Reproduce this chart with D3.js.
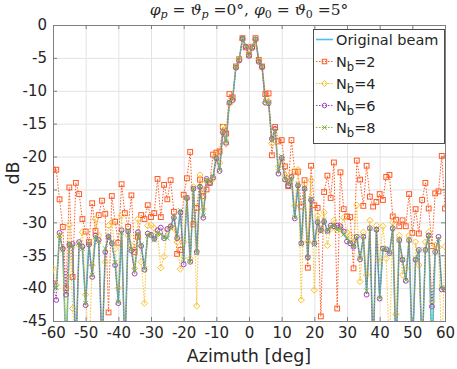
<!DOCTYPE html>
<meta charset="utf-8">
<head>
    <title>Beam pattern</title>
</head>
<style>
    body { margin: 0; background: #fff; }
    text { font-family: "DejaVu Sans", sans-serif; fill: #262626; }
    .grid line { stroke: #e3e3e3; stroke-width: 1; }
</style>
<svg width="457" height="369"></svg>
<script src="https://cdn.jsdelivr.net/npm/d3@7"></script>
<script>

    // azimuth samples, 1 degree apart
    var azimuth = d3.range(-60, 61, 1);

    var xTicks = [-60, -50, -40, -30, -20, -10, 0, 10, 20, 30, 40, 50, 60];
    var yTicks = [0, -5, -10, -15, -20, -25, -30, -35, -40, -45];

    // values below -45 fall off the axes (clipped)
    var original = [
        -40.0, -39.8, -31.9, -34.2, -50, -33.4, -33.5, -50, -33.0, -34.0,
        -42.4, -33.2, -38.2, -32.2, -32.8, -50, -34.1, -32.0, -33.0, -36.0,
        -42.3, -31.4, -50, -31.2, -34.0, -37.5, -31.7, -33.5, -37.0, -32.0,
        -31.8, -32.7, -31.8, -31.7, -32.4, -32.4, -30.7, -29.1, -32.4, -28.1,
        -35.8, -26.1, -36.1, -24.8, -34.7, -24.4, -29.1, -23.4, -23.8, -23.1,
        -19.9, -22.0, -16.1, -17.7, -11.6, -11.2, -6.3, -5.3, -2.0, -3.2,
        -4.6, -3.4, -2.1, -5.5, -6.3, -11.6, -11.8, -17.5, -16.0, -22.3,
        -20.0, -23.3, -24.2, -23.3, -29.4, -24.2, -33.4, -24.8, -35.5, -26.4,
        -33.4, -29.9, -31.4, -29.7, -31.4, -30.7, -30.4, -31.2, -30.9, -31.9,
        -32.4, -33.0, -33.7, -32.2, -35.6, -32.2, -40.5, -30.9, -50, -31.1,
        -41.6, -34.0, -34.1, -34.7, -30.9, -50, -32.7, -35.7, -38.9, -32.7,
        -50, -35.7, -34.2, -50, -34.2, -32.0, -50, -34.5, -32.5, -40.0,
        -40.2
    ];

    var nb2 = [
        -22.0, -22.0, -26.5, -30.7, -40.0, -24.7, -38.3, -24.0, -25.7, -29.5,
        -31.4, -33.0, -27.1, -31.3, -28.9, -26.7, -28.7, -43.7, -26.0, -29.9,
        -33.1, -24.2, -28.6, -30.7, -25.9, -34.5, -32.2, -28.9, -29.5, -27.4,
        -29.2, -28.6, -23.4, -29.2, -24.3, -26.5, -23.6, -28.4, -34.8, -34.2,
        -25.8, -23.3, -19.3, -30.3, -27.8, -23.5, -26.0, -25.0, -24.0, -19.7,
        -19.4, -19.2, -15.5, -16.5, -10.5, -11.0, -6.3, -5.2, -2.0, -3.4,
        -4.5, -3.3, -2.0, -5.3, -6.3, -10.5, -10.4, -19.8, -15.5, -17.7,
        -17.5, -21.5, -24.5, -17.5, -22.3, -22.3, -27.6, -23.6, -36.9, -21.4,
        -27.4, -27.8, -44.3, -25.4, -22.9, -26.3, -20.9, -43.1, -22.4, -28.0,
        -29.1, -29.2, -37.0, -20.6, -23.5, -27.5, -21.4, -26.1, -27.6, -26.9,
        -25.7, -26.6, -23.1, -22.8, -29.1, -29.6, -30.6, -29.7, -30.6, -25.7,
        -31.6, -28.0, -31.7, -26.6, -24.0, -27.9, -33.6, -25.6, -25.3, -19.9,
        -27.9
    ];

    var nb4 = [
        -37.0, -39.5, -32.0, -34.0, -50, -30.4, -43.1, -50, -33.5, -31.5,
        -41.0, -50, -36.5, -29.5, -32.0, -50, -36.0, -30.5, -30.0, -34.0,
        -40.0, -29.0, -50, -32.0, -33.5, -37.0, -29.5, -36.0, -42.3, -30.5,
        -30.4, -30.9, -31.7, -36.9, -35.2, -31.2, -30.7, -30.9, -33.0, -37.1,
        -33.0, -26.4, -35.5, -24.6, -42.7, -22.8, -28.0, -23.8, -23.8, -23.4,
        -19.8, -21.0, -15.5, -18.1, -12.0, -11.5, -6.4, -5.3, -2.2, -3.3,
        -4.5, -3.3, -2.2, -5.4, -6.5, -11.8, -11.6, -18.0, -15.8, -21.5,
        -20.5, -22.8, -23.8, -22.5, -27.5, -22.0, -41.8, -24.2, -33.0, -23.6,
        -40.3, -29.0, -31.0, -28.5, -33.5, -31.0, -29.7, -31.2, -31.0, -29.3,
        -31.5, -32.0, -33.0, -27.4, -39.0, -31.5, -38.0, -29.7, -50, -30.5,
        -36.0, -30.6, -35.5, -50, -30.0, -44.0, -32.0, -38.0, -37.0, -32.0,
        -50, -33.0, -36.5, -50, -33.0, -31.5, -42.0, -33.5, -33.8, -50,
        -33.7
    ];

    var nb6 = [
        -39.2, -41.8, -31.6, -34.0, -41.0, -33.4, -33.3, -50, -33.0, -33.7,
        -42.6, -33.4, -38.3, -32.0, -32.7, -50, -34.5, -32.2, -33.2, -36.5,
        -42.3, -31.2, -50, -31.4, -34.3, -37.8, -31.5, -33.6, -37.2, -31.7,
        -31.9, -32.5, -31.2, -30.8, -32.4, -31.0, -30.6, -29.3, -32.4, -28.5,
        -36.4, -26.3, -36.0, -24.9, -34.5, -24.6, -29.3, -23.4, -24.0, -23.2,
        -20.3, -22.2, -16.3, -17.9, -11.8, -11.4, -6.5, -5.4, -2.1, -3.3,
        -4.7, -3.5, -2.2, -5.6, -6.4, -11.8, -11.9, -17.3, -15.8, -22.6,
        -20.2, -23.5, -24.4, -23.1, -29.4, -24.4, -33.2, -24.9, -35.3, -26.6,
        -33.2, -30.0, -31.2, -29.9, -31.3, -30.5, -30.6, -30.5, -30.6, -31.4,
        -32.9, -33.2, -33.7, -32.2, -35.6, -32.2, -41.0, -30.9, -50, -31.1,
        -41.6, -34.0, -34.1, -34.7, -30.9, -50, -32.7, -35.7, -38.9, -32.7,
        -50, -35.7, -34.2, -50, -34.2, -32.0, -42.8, -34.5, -32.2, -40.2,
        -40.2
    ];

    var nb8 = [
        -40.0, -39.9, -32.0, -34.2, -50, -33.3, -33.6, -50, -33.1, -34.0,
        -42.3, -33.2, -38.0, -32.2, -32.9, -50, -34.0, -32.1, -33.0, -36.1,
        -42.1, -31.5, -50, -31.2, -34.1, -37.4, -31.8, -33.4, -37.1, -32.0,
        -31.8, -32.7, -31.7, -31.8, -32.3, -32.4, -30.8, -29.1, -32.3, -28.2,
        -35.7, -26.2, -36.0, -24.8, -34.6, -24.5, -29.0, -23.5, -23.8, -23.0,
        -20.0, -22.1, -16.2, -17.7, -11.7, -11.2, -6.3, -5.3, -2.0, -3.2,
        -4.6, -3.4, -2.1, -5.5, -6.3, -11.6, -11.8, -17.5, -16.1, -22.3,
        -20.0, -23.4, -24.2, -23.3, -29.3, -24.2, -33.3, -24.8, -35.4, -26.4,
        -33.4, -29.8, -31.4, -29.7, -31.4, -30.7, -30.4, -31.1, -30.9, -31.8,
        -32.4, -33.0, -33.6, -32.2, -35.5, -32.2, -40.4, -30.9, -50, -31.1,
        -41.5, -34.0, -34.1, -34.6, -30.9, -50, -32.7, -35.6, -38.8, -32.7,
        -50, -35.6, -34.2, -50, -34.2, -32.0, -50, -34.5, -32.5, -39.9,
        -40.1
    ];

    var series = [
        {name: "Original beam", values: original, color: "#4DBEEE", dash: null, marker: null, width: 1.6},
        {name: "2", values: nb2, color: "#FF5A24", dash: "1.5,1.5", marker: "square", width: 1},
        {name: "4", values: nb4, color: "#FBC02D", dash: "1.5,1.5", marker: "diamond", width: 1},
        {name: "6", values: nb6, color: "#A43FC0", dash: "1.5,1.5", marker: "circle", width: 1},
        {name: "8", values: nb8, color: "#7DB83A", dash: "1.5,1.5", marker: "cross", width: 1}
    ];

    var svg = d3.select("svg"),
        plotL = 53, plotR = 445, plotT = 25, plotB = 321;

    var x = d3.scaleLinear().domain([-60, 60]).range([plotL, plotR]);
    var y = d3.scaleLinear().domain([-45, 0]).range([plotB, plotT]);
    var plain = function(d) { return String(d); };

    svg.append("defs").append("clipPath").attr("id", "plot")
        .append("rect")
        .attr("x", plotL).attr("y", plotT)
        .attr("width", plotR - plotL).attr("height", plotB - plotT);

    // grid
    var grid = svg.append("g").attr("class", "grid");
    grid.selectAll(".gx").data(xTicks).enter().append("line")
        .attr("x1", function(d) { return x(d) + 0.5; })
        .attr("x2", function(d) { return x(d) + 0.5; })
        .attr("y1", plotT).attr("y2", plotB);
    grid.selectAll(".gy").data(yTicks).enter().append("line")
        .attr("y1", function(d) { return y(d) + 0.5; })
        .attr("y2", function(d) { return y(d) + 0.5; })
        .attr("x1", plotL).attr("x2", plotR);

    // axes, ticks inside on all four sides
    var axisColor = "#7f7f7f";
    function styleAxis(g) {
        g.select(".domain").remove();
        g.selectAll(".tick line").attr("stroke", axisColor);
        g.selectAll(".tick text").attr("fill", "#262626")
            .style("font-family", "'DejaVu Sans', sans-serif").style("font-size", "15px");
    }

    svg.append("g").attr("transform", "translate(0," + plotB + ")")
        .call(d3.axisBottom(x).tickValues(xTicks).tickFormat(plain).tickSizeInner(-4).tickSizeOuter(0).tickPadding(6))
        .call(styleAxis);
    svg.append("g").attr("transform", "translate(0," + plotT + ")")
        .call(d3.axisTop(x).tickValues(xTicks).tickSizeInner(-4).tickSizeOuter(0).tickFormat(""))
        .call(styleAxis);
    svg.append("g").attr("transform", "translate(" + plotL + ",0)")
        .call(d3.axisLeft(y).tickValues(yTicks).tickFormat(plain).tickSizeInner(-4).tickSizeOuter(0).tickPadding(6))
        .call(styleAxis);
    svg.append("g").attr("transform", "translate(" + plotR + ",0)")
        .call(d3.axisRight(y).tickValues(yTicks).tickSizeInner(-4).tickSizeOuter(0).tickFormat(""))
        .call(styleAxis);

    svg.append("rect")
        .attr("x", plotL + 0.5).attr("y", plotT + 0.5)
        .attr("width", plotR - plotL).attr("height", plotB - plotT)
        .attr("fill", "none").attr("stroke", axisColor).attr("stroke-width", 1);

    // data
    var plot = svg.append("g").attr("clip-path", "url(#plot)");
    var line = d3.line()
        .x(function(d, i) { return x(azimuth[i]); })
        .y(function(d) { return y(d); });

    function drawMarker(g, type, color, size) {
        if (type === "square") {
            g.append("rect").attr("x", -size / 2).attr("y", -size / 2)
                .attr("width", size).attr("height", size);
        } else if (type === "diamond") {
            var s = size * 0.65;
            g.append("path").attr("d", "M0," + (-s) + "L" + s + ",0L0," + s + "L" + (-s) + ",0Z");
        } else if (type === "circle") {
            g.append("circle").attr("r", size / 2);
        } else if (type === "cross") {
            var c = size / 2;
            g.append("path").attr("d", "M" + (-c) + "," + (-c) + "L" + c + "," + c + "M" + (-c) + "," + c + "L" + c + "," + (-c));
        }
        g.attr("fill", "none").attr("stroke", color).attr("stroke-width", 1);
    }

    series.forEach(function(s) {
        plot.append("path")
            .datum(s.values)
            .attr("fill", "none")
            .attr("stroke", s.color)
            .attr("stroke-width", s.width)
            .attr("stroke-dasharray", s.dash)
            .attr("d", line);
        if (s.marker) {
            plot.append("g").selectAll("g")
                .data(s.values)
                .enter().append("g")
                .attr("transform", function(d, i) { return "translate(" + x(azimuth[i]) + "," + y(d) + ")"; })
                .each(function() { drawMarker(d3.select(this), s.marker, s.color, 4.8); });
        }
    });

    // legend
    var lg = svg.append("g");
    lg.append("rect")
        .attr("x", 313.5).attr("y", 29.5).attr("width", 131).attr("height", 114)
        .attr("fill", "#fff").attr("stroke", "#4d4d4d").attr("stroke-width", 1);

    series.forEach(function(s, i) {
        var ly = 39.5 + i * 22;
        var item = lg.append("g").attr("transform", "translate(0," + ly + ")");
        item.append("line")
            .attr("x1", 316).attr("x2", 333).attr("y1", 0).attr("y2", 0)
            .attr("stroke", s.color).attr("stroke-width", s.width)
            .attr("stroke-dasharray", s.dash);
        if (s.marker) {
            var m = item.append("g").attr("transform", "translate(324.5,0)");
            drawMarker(m, s.marker, s.color, 4.5);
        }
        var t = item.append("text").attr("x", 336).attr("y", 5.5).style("font-size", "14.5px");
        if (i === 0) {
            t.text(s.name);
        } else {
            t.append("tspan").text("N");
            t.append("tspan").attr("dy", 4).style("font-size", "11.5px").text("b");
            t.append("tspan").attr("dy", -4).text("=" + s.name);
        }
    });

    // axis labels
    svg.append("text")
        .attr("x", (plotL + plotR) / 2).attr("y", 362)
        .attr("text-anchor", "middle").style("font-size", "17.5px")
        .text("Azimuth [deg]");

    svg.append("text")
        .attr("transform", "translate(19," + ((plotT + plotB) / 2) + ") rotate(-90)")
        .attr("text-anchor", "middle").style("font-size", "17.5px")
        .text("dB");

    // title
    var title = svg.append("text")
        .attr("x", (plotL + plotR) / 2).attr("y", 15)
        .attr("text-anchor", "middle").style("font-size", "15.5px")
        .style("font-family", "'DejaVu Serif', serif");
    function part(txt, italic, sub) {
        var ts = title.append("tspan").text(txt);
        if (italic) ts.style("font-style", "italic");
        if (sub) ts.attr("dy", 3).style("font-size", "11px");
        return ts;
    }
    part("φ", true);
    part("p", true, true);
    part(" = ", false).attr("dy", -3);
    part("ϑ", true);
    part("p", true, true);
    part(" =0°, ", false).attr("dy", -3);
    part("φ", true);
    part("0", false, true);
    part(" = ", false).attr("dy", -3);
    part("ϑ", true);
    part("0", false, true);
    part(" =5°", false).attr("dy", -3);

</script>
